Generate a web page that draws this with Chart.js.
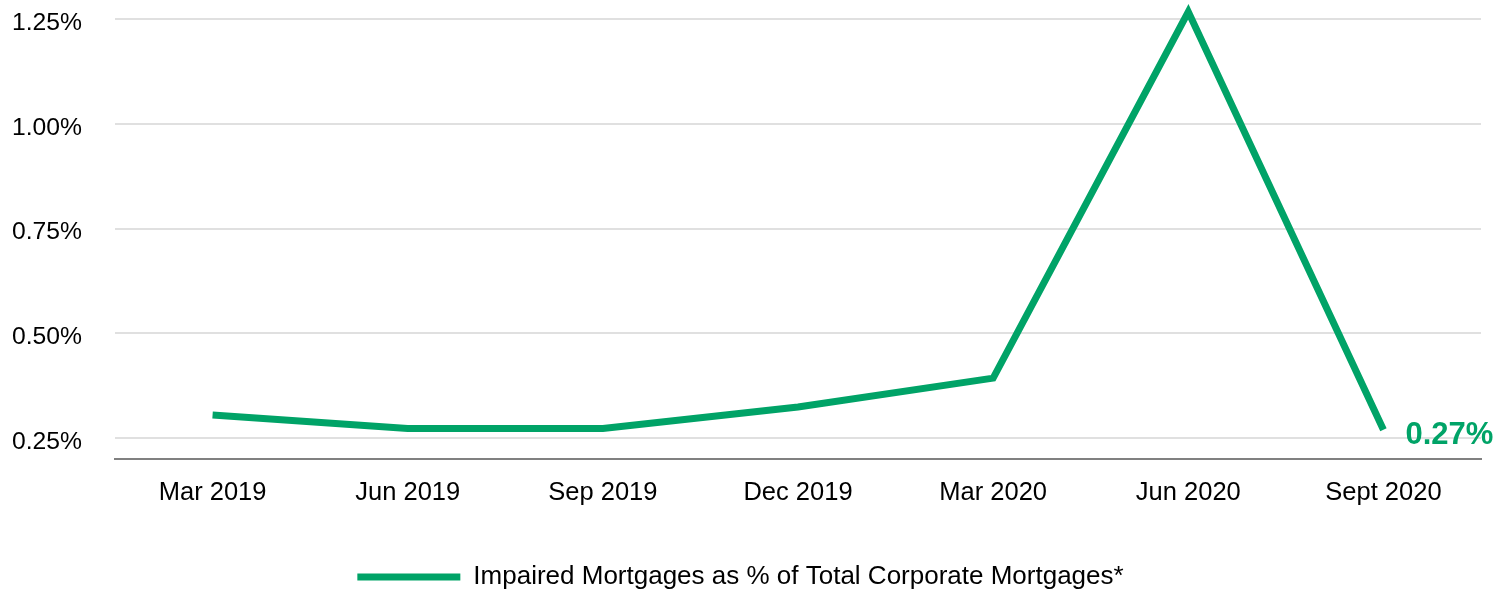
<!DOCTYPE html>
<html>
<head>
<meta charset="utf-8">
<script src="https://cdn.jsdelivr.net/npm/chart.js@4/dist/chart.umd.min.js"></script>
<style>
html,body{margin:0;padding:0;background:#fff;}
#wrap{width:1503px;height:590px;}
</style>
</head>
<body>
<div id="wrap"><canvas id="c" width="1503" height="590"></canvas></div>
<script>
const categories = ["Mar 2019","Jun 2019","Sep 2019","Dec 2019","Mar 2020","Jun 2020","Sept 2020"];
const impairedPct = [0.305, 0.273, 0.273, 0.324, 0.393, 1.267, 0.27];
const yTicks = [0.25, 0.50, 0.75, 1.00, 1.25];
const seriesLabel = "Impaired Mortgages as % of Total Corporate Mortgages*";
const lastLabel = "0.27%";

const GREEN = '#00A367';
const FONT = "'Liberation Sans', Arial, sans-serif";

const endLabel = {
  id: 'endLabel',
  afterDatasetsDraw(chart) {
    const meta = chart.getDatasetMeta(0);
    const pt = meta.data[meta.data.length - 1];
    const ctx = chart.ctx;
    ctx.save();
    ctx.font = "bold 31px " + FONT;
    ctx.fillStyle = GREEN;
    ctx.textAlign = 'left';
    ctx.textBaseline = 'alphabetic';
    ctx.fillText(lastLabel, pt.x + 22, pt.y + 14);
    ctx.restore();
  }
};

new Chart(document.getElementById('c'), {
  type: 'line',
  data: {
    labels: categories,
    datasets: [{
      label: seriesLabel,
      data: impairedPct,
      borderColor: GREEN,
      backgroundColor: GREEN,
      borderWidth: 7,
      borderJoinStyle: 'miter',
      borderCapStyle: 'butt',
      pointRadius: 0,
      tension: 0,
      clip: false
    }]
  },
  options: {
    responsive: false,
    animation: false,
    layout: { padding: { top: 19, right: 22, bottom: -10, left: 0 } },
    plugins: {
      legend: {
        position: 'bottom',
        labels: {
          boxWidth: 103,
          boxHeight: 7,
          padding: 0,
          color: '#000',
          font: { family: FONT, size: 26 },
          generateLabels(chart) {
            return [{
              text: seriesLabel,
              fillStyle: GREEN,
              strokeStyle: GREEN,
              lineWidth: 0,
              datasetIndex: 0,
              fontColor: '#000'
            }];
          }
        }
      },
      tooltip: { enabled: false }
    },
    scales: {
      x: {
        offset: true,
        grid: { display: false, drawTicks: false },
        border: { display: true, color: '#808080', width: 2 },
        ticks: { color: '#000', padding: 19, font: { family: FONT, size: 25.5 } },
        afterFit(scale) { scale.height = 105; }
      },
      y: {
        min: 0.2,
        max: 1.25,
        afterBuildTicks(scale) { scale.ticks = yTicks.map(v => ({ value: v })); },
        grid: { color: '#e0e0e0', lineWidth: 2, drawTicks: true, tickLength: 33, tickColor: 'rgba(0,0,0,0)' },
        border: { display: false },
        ticks: {
          color: '#000',
          padding: 0,
          labelOffset: 4,
          font: { family: FONT, size: 24.7 },
          callback: v => v.toFixed(2) + '%'
        },
        afterFit(scale) { scale.width = 115; }
      }
    }
  },
  plugins: [endLabel]
});
</script>
</body>
</html>
